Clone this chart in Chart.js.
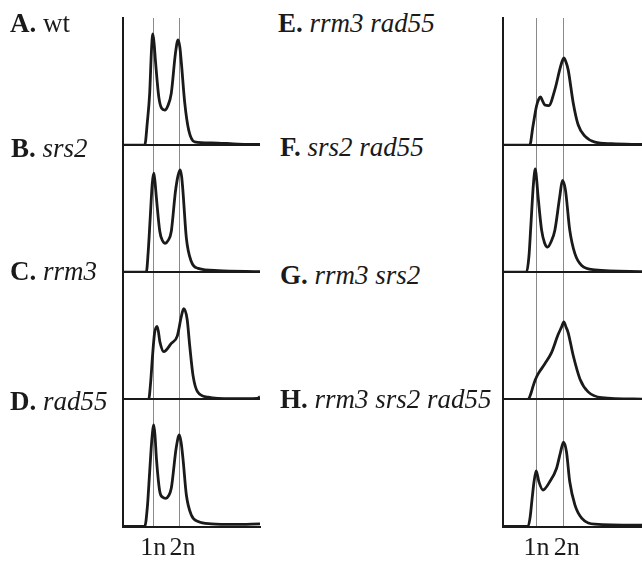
<!DOCTYPE html>
<html><head><meta charset="utf-8">
<script src="https://cdn.jsdelivr.net/npm/chart.js@4/dist/chart.umd.min.js"></script>
<style>
html,body{margin:0;padding:0;background:#fff;}
body{width:642px;height:563px;position:relative;overflow:hidden;}
canvas{position:absolute;top:0;}
.lbl{position:absolute;font-family:"Liberation Serif","Times New Roman",serif;font-size:27px;line-height:27px;color:#1a1a1a;white-space:nowrap;z-index:2;}
.lbl b{font-weight:bold;}
.lbl i{font-style:italic;}
</style></head><body>
<canvas id="cl" width="265" height="570" style="left:0px"></canvas>
<canvas id="cr" width="172" height="570" style="left:470px"></canvas>
<script>
// ---- Data (x = DNA content, 1n = 1, 2n = 2; y = relative cell count, panel max = 100) ----
const dnaTicks = [1, 2];
const tickLabels = ['1n', '\u00a02n'];
const panelTags = ['A.', 'B.', 'C.', 'D.', 'E.', 'F.', 'G.', 'H.'];
const panelNames = ['wt', 'srs2', 'rrm3', 'rad55', 'rrm3 rad55', 'srs2 rad55', 'rrm3 srs2', 'rrm3 srs2 rad55'];

const xA = [-0.165, 0.67, 0.77, 0.86, 0.93, 0.98, 1.03, 1.08, 1.21, 1.32, 1.44, 1.56, 1.69, 1.85, 1.95, 2.02, 2.08, 2.21, 2.36, 2.59, 3.23, 4.26, 5.1];
const yA = [0, 0, 18, 40.7, 75, 87.4, 80, 66.9, 38, 29, 27.6, 31, 40.7, 72.2, 82.7, 77, 64.3, 32.8, 11.8, 2.6, 1.8, 0.8, 0.5];
const xB = [-0.165, 0.73, 0.80, 0.88, 0.96, 1.02, 1.07, 1.12, 1.25, 1.35, 1.46, 1.57, 1.69, 1.85, 1.95, 2.03, 2.09, 2.14, 2.27, 2.46, 2.72, 3.49, 5.1];
const yB = [0, 0, 15, 42.5, 70, 78, 70, 58.3, 32, 25, 22.8, 25, 32, 63.5, 76, 80.6, 75, 63.5, 26.8, 8.4, 3.1, 1.3, 0.5];
const xC = [-0.165, 0.82, 0.9, 0.96, 1.05, 1.15, 1.26, 1.40, 1.69, 1.92, 2.08, 2.17, 2.30, 2.40, 2.53, 2.70, 3.1, 4.0, 5.0, 5.1];
const yC = [0, 0, 14, 31.5, 52.4, 57.5, 44.6, 37.5, 44, 49.8, 65.6, 71.3, 63, 42, 18.3, 6, 1.8, 0.5, 0.8, 2];
const xD = [-0.165, 0.67, 0.77, 0.86, 0.95, 1.02, 1.07, 1.12, 1.25, 1.36, 1.48, 1.58, 1.69, 1.88, 2.0, 2.07, 2.14, 2.27, 2.46, 2.72, 3.23, 4.13, 5.1];
const yD = [0, 0, 15, 43, 70, 80, 70, 53.4, 27.3, 23, 22.2, 24, 30, 62, 72, 66, 53.4, 24.8, 9.1, 3.9, 2.1, 1.6, 2.1];

const xE = [-0.237, 0.75, 0.87, 1.0, 1.08, 1.15, 1.22, 1.31, 1.45, 1.68, 1.86, 1.95, 2.01, 2.08, 2.17, 2.36, 2.54, 2.79, 3.16, 3.78, 4.9];
const yE = [0, 0, 14.9, 30.6, 36, 38, 35, 31.5, 31, 43.7, 59.4, 66, 68.6, 66, 59.4, 33, 16, 7.1, 2.4, 1.1, 0.5];
const xF = [-0.237, 0.63, 0.72, 0.79, 0.89, 0.96, 1.01, 1.06, 1.19, 1.30, 1.41, 1.54, 1.68, 1.86, 1.96, 2.07, 2.23, 2.42, 2.67, 3.16, 4.9];
const yF = [0, 0, 12, 35.7, 70.2, 81.3, 72, 59.5, 33.1, 23, 19.8, 24, 33.1, 59.5, 72.2, 64.8, 33.1, 14.6, 5.3, 1.9, 0.5];
const xG = [-0.237, 0.69, 0.80, 0.87, 0.95, 1.06, 1.31, 1.56, 1.80, 1.93, 2.01, 2.09, 2.17, 2.36, 2.61, 2.91, 3.41, 4.9];
const yG = [0, 0, 5, 10, 15, 20, 28, 37, 51, 57, 61, 57, 52.6, 34.3, 15.9, 5.9, 1.4, 0.2];
const xH = [-0.237, 0.69, 0.77, 0.84, 0.91, 0.99, 1.09, 1.24, 1.49, 1.74, 1.89, 2.0, 2.11, 2.23, 2.42, 2.67, 3.16, 4.9];
const yH = [0, 0, 8, 22.2, 35.2, 43.8, 35.2, 28.7, 35.2, 45.6, 58.6, 66.4, 58.6, 35.2, 17, 6.6, 1.9, 1.1];

// ---- Labels ----
const labelPos = [[10, 10], [11, 135], [10, 258], [10, 388], [278, 10], [280, 134], [280, 262], [280, 386]];
panelTags.forEach((t, i) => {
  const d = document.createElement('div');
  d.className = 'lbl';
  d.style.left = labelPos[i][0] + 'px';
  d.style.top = labelPos[i][1] + 'px';
  const nm = panelNames[i] === 'wt' ? panelNames[i] : '<i>' + panelNames[i] + '</i>';
  d.innerHTML = '<b>' + t + '</b> ' + nm;
  document.body.appendChild(d);
});

// ---- Charts ----
const INK = '#1a1a1a';
function makeChart(id, xs, ys, xMin, xMax, padLeft, padRight) {
  const scales = {
    x: {
      type: 'linear', position: 'bottom', min: xMin, max: xMax,
      afterBuildTicks: s => { s.ticks = dnaTicks.map(v => ({ value: v })); },
      ticks: {
        callback: (v, i) => tickLabels[i],
        font: { family: 'Liberation Serif', size: 26, lineHeight: 1 },
        color: INK, padding: 8.5, maxRotation: 0, autoSkip: false
      },
      grid: { color: '#8a8a8a', lineWidth: 1, drawTicks: false },
      border: { color: INK, width: 2 }
    }
  };
  const ids = ['p0', 'p1', 'p2', 'p3'];
  ids.forEach((sid, i) => {
    scales[sid] = {
      type: 'linear', position: 'left', stack: 'col', stackWeight: 1, weight: 4 - i,
      min: 0, max: 100,
      afterBuildTicks: s => { s.ticks = [{ value: 0 }]; },
      ticks: { display: false },
      grid: { color: INK, lineWidth: 2, drawTicks: false },
      border: { color: INK, width: 2 }
    };
  });
  const datasets = xs.map((xa, i) => ({
    data: xa.map((x, k) => ({ x: x, y: ys[i][k] })),
    yAxisID: ids[i],
    borderColor: INK, borderWidth: 2.8, pointRadius: 0,
    cubicInterpolationMode: 'monotone', fill: false
  }));
  return new Chart(document.getElementById(id), {
    type: 'line',
    data: { datasets },
    options: {
      responsive: false, animation: false, devicePixelRatio: 1,
      layout: { padding: { left: padLeft, right: padRight, top: 18, bottom: 0.5 } },
      plugins: { legend: { display: false }, tooltip: { enabled: false } },
      scales
    }
  });
}
makeChart('cl', [xA, xB, xC, xD], [yA, yB, yC, yD], -0.165, 5.1, 123, 5);
makeChart('cr', [xE, xF, xG, xH], [yE, yF, yG, yH], -0.237, 4.9, 33, 0);
</script>
</body></html>
